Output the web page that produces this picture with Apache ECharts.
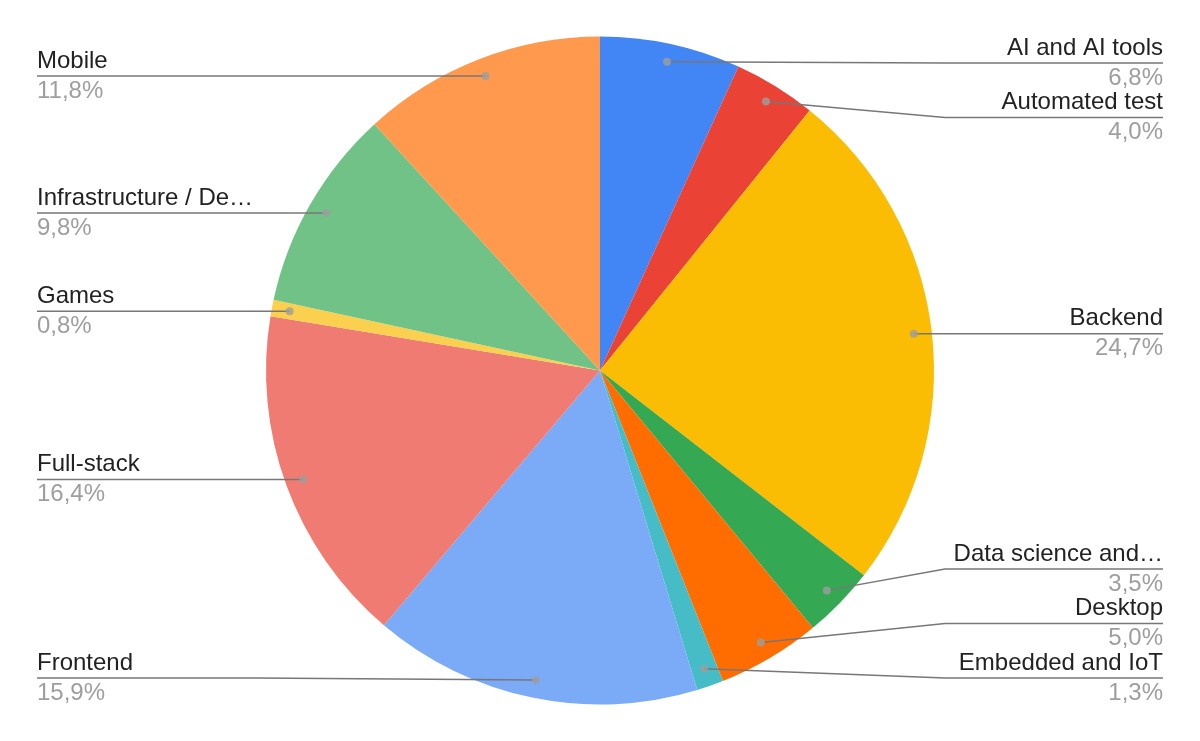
<!DOCTYPE html>
<html>
<head>
<meta charset="utf-8">
<script src="https://cdn.jsdelivr.net/npm/echarts@6/dist/echarts.min.js"></script>
<style>
  html, body { margin: 0; padding: 0; background: #ffffff; }
  #chart { width: 1200px; height: 741px; }
</style>
</head>
<body>
<div id="chart"></div>
<script>
// ---- data ----
const categories = [
  'AI and AI tools', 'Automated test', 'Backend', 'Data science and…', 'Desktop',
  'Embedded and IoT', 'Frontend', 'Full-stack', 'Games', 'Infrastructure / De…', 'Mobile'
];
const shares = [6.8, 4.0, 24.7, 3.5, 5.0, 1.3, 15.9, 16.4, 0.8, 9.8, 11.8];
const colors = [
  '#4285F4', '#EA4335', '#FBBC04', '#34A853', '#FF6D01',
  '#46BDC6', '#7BAAF7', '#F07B72', '#FCD04F', '#71C287', '#FF994D'
];

// ---- layout constants ----
const W = 1200, H = 741;
const CX = W / 2, CY = H / 2;
const R = 334;
const DOT_FRAC = 0.946;        // dot position as fraction of radius
const BEND_FROM_EDGE = 255;    // x where leader line bends, from chart edge
const PITCH = 54.5;            // min vertical spacing between label lines
const TOP_BOUND = 63, BOTTOM_BOUND = 678;
const FONT = '"Liberation Sans", Arial, sans-serif';

const total = shares.reduce((a, b) => a + b, 0);
const mids = [];
{
  let acc = 0;
  shares.forEach(v => { mids.push(acc + v / 2); acc += v; });
}
const midAngle = mids.map(m => m / total * Math.PI * 2); // clockwise from top
const dotPos = midAngle.map(a => [CX + R * DOT_FRAC * Math.sin(a), CY - R * DOT_FRAC * Math.cos(a)]);
const isRight = midAngle.map(a => a < Math.PI);

// resolve label line y positions (avoid overlap) per side
const labelY = dotPos.map(p => p[1]);
[true, false].forEach(side => {
  const idx = labelY.map((y, i) => i).filter(i => isRight[i] === side).sort((a, b) => dotPos[a][1] - dotPos[b][1]);
  const ys = idx.map(i => dotPos[i][1]);
  ys[0] = Math.max(ys[0], TOP_BOUND);
  for (let k = 1; k < ys.length; k++) ys[k] = Math.max(ys[k], ys[k - 1] + PITCH);
  ys[ys.length - 1] = Math.min(ys[ys.length - 1], BOTTOM_BOUND);
  for (let k = ys.length - 2; k >= 0; k--) ys[k] = Math.min(ys[k], ys[k + 1] - PITCH);
  idx.forEach((i, k) => { labelY[i] = ys[k]; });
});

const fmt = v => v.toFixed(1).replace('.', ',') + '%';
const pieData = categories.map((c, i) => ({ name: c, value: shares[i] }));

const chart = echarts.init(document.getElementById('chart'), null, { renderer: 'canvas' });

chart.setOption({
  backgroundColor: '#ffffff',
  animation: false,
  color: colors,
  polar: { center: ['50%', '50%'], radius: R },
  angleAxis: { type: 'value', min: 0, max: total, startAngle: 90, clockwise: true, show: false },
  radiusAxis: { type: 'value', min: 0, max: 1, show: false },
  series: [
    {
      // coloured slices
      type: 'pie',
      z: 1,
      center: ['50%', '50%'],
      radius: R,
      startAngle: 90,
      clockwise: true,
      silent: true,
      itemStyle: { borderWidth: 0 },
      label: { show: false },
      labelLine: { show: false },
      data: pieData
    },
    {
      // transparent overlay carrying labels and leader lines above the slices
      type: 'pie',
      z: 3,
      zlevel: 0,
      center: ['50%', '50%'],
      radius: R,
      startAngle: 90,
      clockwise: true,
      silent: true,
      avoidLabelOverlap: false,
      itemStyle: { color: 'rgba(0,0,0,0)', borderWidth: 0 },
      data: pieData,
      label: {
        position: 'outer',
        alignTo: 'edge',
        edgeDistance: 37,
        fontFamily: FONT,
        formatter: p => '{n|' + p.name + '}\n{v|' + fmt(p.value) + '}',
        rich: {
          n: { fontSize: 24, color: '#222222', lineHeight: 30, fontFamily: FONT },
          v: { fontSize: 24, color: '#9e9e9e', lineHeight: 30, fontFamily: FONT }
        }
      },
      labelLine: {
        show: true,
        length: 1,
        length2: 5,
        lineStyle: { color: '#777777', width: 1.5 }
      },
      labelLayout: function (p) {
        const i = p.dataIndex;
        const y = labelY[i];
        const d = dotPos[i];
        const right = isRight[i];
        const bendX = right ? W - BEND_FROM_EDGE : BEND_FROM_EDGE;
        const endX = right ? p.labelRect.x + p.labelRect.width : p.labelRect.x;
        const bx = right ? Math.max(bendX, d[0]) : Math.min(bendX, d[0]);
        return {
          y: y,
          labelLinePoints: [[d[0], d[1]], [bx, y], [endX, y]]
        };
      }
    },
    {
      type: 'scatter',
      z: 5,
      coordinateSystem: 'polar',
      symbol: 'circle',
      symbolSize: 8,
      silent: true,
      itemStyle: { color: '#9e9e9e' },
      data: mids.map(m => [DOT_FRAC, m])
    }
  ]
});
</script>
</body>
</html>
